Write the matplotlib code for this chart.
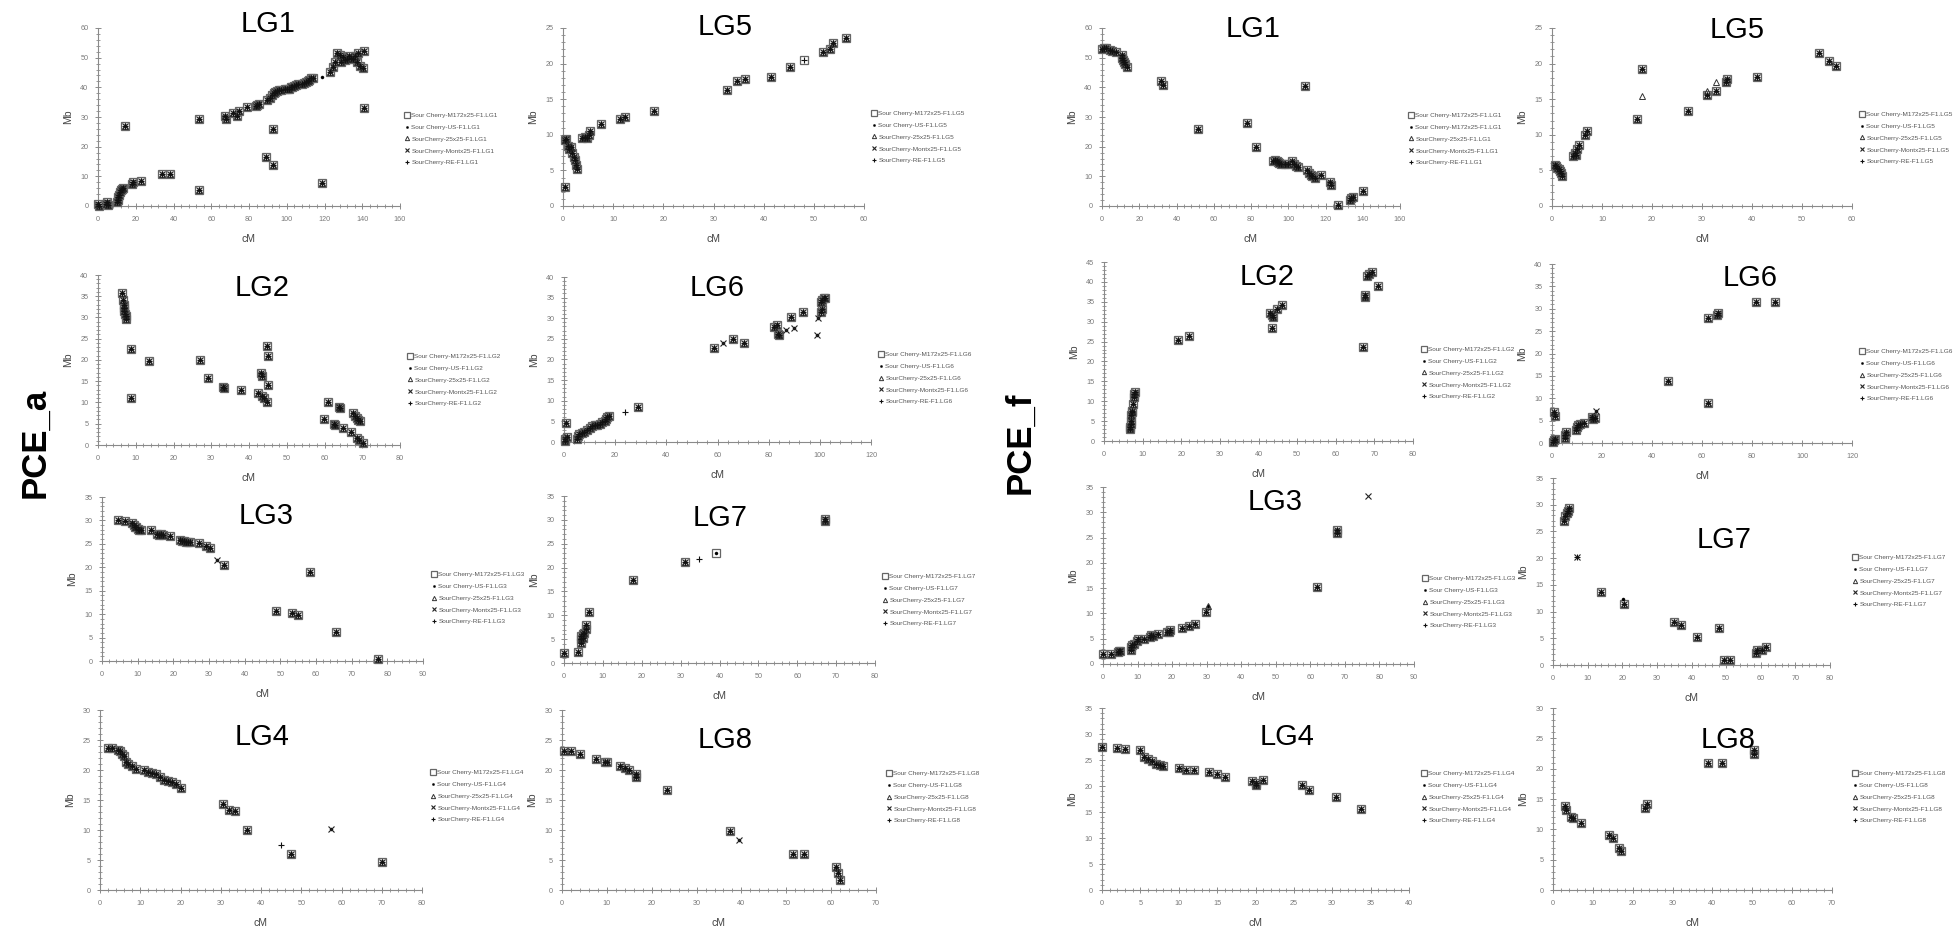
import matplotlib
matplotlib.use("Agg")
import matplotlib.pyplot as plt
from matplotlib.ticker import MultipleLocator, AutoMinorLocator
from matplotlib.lines import Line2D

plt.rcParams['font.family'] = ['Liberation Sans', 'DejaVu Sans']

W, H = 1959, 938

# ---------------- data (cM, Mb) ----------------
# PCE_a
A_LG1_cM = [0, 0.3, 4.5, 5, 5.3, 10, 10.4, 10.8, 11.2, 11.5, 12, 12.5, 13, 14.1, 18.2, 18.6, 23, 34, 38.4, 53.4, 53.7,
            67.2, 68, 71.6, 73.7, 74.6, 78.7, 83.6, 84.2, 85.4, 89.3, 91, 92, 93, 94, 95, 96, 97, 99, 100, 101, 102, 103,
            104, 105, 106, 108, 109, 110, 111, 112, 113, 114, 88.8, 92.8, 92.6, 118.5, 122.9, 124.6, 125.5, 126.4, 128,
            130, 132, 134, 136, 137.9, 141, 129, 131, 133, 135, 137, 139, 140.6, 141]
A_LG1_Mb = [0.6, 0.0, 0.8, 1.3, 0.4, 1.2, 2.0, 3.0, 3.8, 4.6, 5.3, 5.8, 6.1, 26.8, 7.3, 8.0, 8.5, 10.9, 10.8, 5.3, 29.4,
            30.3, 29.3, 31.3, 30.4, 32.0, 33.5, 33.6, 33.9, 34.3, 35.7, 36.5, 37.5, 38.0, 38.4, 38.8, 39.0, 39.2, 39.3, 39.5,
            39.6, 40.0, 40.2, 40.5, 40.8, 41.0, 41.2, 41.5, 41.8, 42.0, 42.5, 43.0, 43.3, 16.4, 13.8, 25.9, 7.9, 45.0, 46.8,
            48.5, 51.5, 50.8, 50.2, 49.6, 49.8, 50.6, 51.5, 52.1, 48.6, 49.2, 50.5, 49.5, 48.5, 47.3, 46.6, 32.9]
A_LG1_x_cM, A_LG1_x_Mb, A_LG1_x_ser = [118.8], [43.4], [[1]]

A_LG5_cM = [0.33, 0.3, 0.5, 1.0, 1.2, 1.5, 1.8, 2.1, 2.3, 2.6, 2.8, 3.7, 4.4, 4.8, 5.1, 5.45, 7.6, 11.3, 12.4, 18.1, 32.6,
            34.6, 36.3, 41.5, 45.2, 51.8, 53.2, 53.8, 56.5]
A_LG5_Mb = [2.66, 9.2, 9.45, 8.4, 8.0, 8.3, 7.5, 6.9, 6.4, 5.7, 5.2, 9.5, 9.7, 9.5, 10.0, 10.6, 11.5, 12.25, 12.5, 13.3,
            16.3, 17.5, 17.8, 18.1, 19.5, 21.6, 22.0, 22.9, 23.6]
A_LG5_x_cM, A_LG5_x_Mb, A_LG5_x_ser = [48.0], [20.5], [[0, 4]]

A_LG2_cM = [6.45, 6.7, 6.8, 6.9, 7.0, 7.2, 7.3, 7.5, 8.84, 8.84, 13.5, 27, 29.2, 33, 33.3, 37.8, 42.4, 43.5, 44, 44.65,
            43.1, 43.5, 44.8, 45.1, 45.1, 59.9, 60.8, 62.4, 62.9, 63.8, 64.1, 65, 67, 67.5, 68, 68.5, 69, 69.3, 68.7,
            69.1, 70.3]
A_LG2_Mb = [35.8, 34, 33, 32.3, 31.5, 30.8, 30.3, 29.7, 22.6, 11, 19.8, 20, 15.7, 13.7, 13.3, 12.9, 12.3, 11.6, 11, 10.2,
            16.9, 16.2, 23.3, 20.9, 14.1, 6.0, 10.0, 4.9, 4.8, 9.0, 8.6, 4.1, 3.1, 7.45, 6.8, 6.3, 5.9, 5.6, 1.6, 1.2, 0.55]
A_LG2_x_cM, A_LG2_x_Mb, A_LG2_x_ser = [], [], []

A_LG6_cM = [0.3, 0.5, 1, 0.9, 5, 5.5, 6, 7, 8, 9, 10, 11, 12, 13, 14, 15, 16, 16.5, 17, 17.5, 29, 58.6, 65.9, 70.5,
            82.1, 83.4, 83.5, 84, 88.8, 93.6, 100.5, 100.7, 100.5, 101, 101.5, 102]
A_LG6_Mb = [0.3, 0.8, 1.1, 4.6, 0.8, 1.5, 2, 2.2, 2.5, 3, 3.5, 3.8, 4, 4.2, 4.4, 4.8, 5.2, 5.6, 6, 6.3, 8.5, 22.8, 25.05,
            24, 27.9, 28.3, 26.1, 26, 30.3, 31.5, 31.5, 32.2, 34, 34.5, 34.8, 34.9]
A_LG6_x_cM = [23.8, 62.3, 86.8, 89.9, 99.1, 98.8]
A_LG6_x_Mb = [7.3, 24.1, 27.1, 27.7, 30.1, 25.9]
A_LG6_x_ser = [[4], [1, 3], [1, 3], [1, 3], [1, 3], [1, 3]]

A_LG3_cM = [4.5, 6.4, 8.5, 9, 9.3, 9.6, 10, 10.5, 11, 13.6, 15.5, 16, 16.5, 17, 19.2, 21.8, 22.5, 23, 23.5, 24.2, 24.6,
            27.2, 29.2, 30.2, 34.3, 48.8, 53.2, 54.9, 58.3, 65.6, 77.3]
A_LG3_Mb = [30.1, 29.9, 29.5, 29, 28.7, 28.5, 28.2, 28, 28, 27.9, 27, 26.8, 27.1, 26.8, 26.6, 25.8, 25.7, 25.6, 25.5,
            25.4, 25.3, 25.1, 24.5, 24.1, 20.4, 10.7, 10.3, 9.8, 19.1, 6.1, 0.4]
A_LG3_x_cM, A_LG3_x_Mb, A_LG3_x_ser = [32.3], [21.6], [[1, 3]]

A_LG7_cM = [0.1, 3.6, 4.3, 4.4, 4.5, 4.8, 5.0, 5.2, 5.7, 5.7, 6.4, 17.8, 31.2, 67.2, 67.2]
A_LG7_Mb = [2.2, 2.4, 4.2, 5.0, 5.7, 5.3, 6.0, 6.3, 7.2, 7.9, 10.6, 17.4, 21.1, 29.8, 30.2]
A_LG7_x_cM, A_LG7_x_Mb, A_LG7_x_ser = [34.8, 39.0], [21.8, 23.0], [[4], [0, 1]]

A_LG4_cM = [2, 3, 4.5, 5, 5.5, 6, 6.5, 7, 8, 9, 11, 12, 13, 14, 15, 16, 17, 18, 19, 20, 30.5, 32, 33.5, 36.5, 47.5, 70]
A_LG4_Mb = [23.6, 23.6, 23.4, 23.2, 22.7, 22.3, 21.4, 21.0, 20.6, 20.1, 20.0, 19.7, 19.5, 19.3, 18.9, 18.4, 18.2, 18.0,
            17.6, 17.0, 14.3, 13.3, 13.1, 10.0, 6.0, 4.7]
A_LG4_x_cM, A_LG4_x_Mb, A_LG4_x_ser = [45, 57.5], [7.5, 10.2], [[4], [1, 3]]

A_LG8_cM = [0.5, 2, 4, 7.5, 9.5, 10, 13, 14, 15, 16.5, 16.5, 23.5, 37.5, 51.5, 54, 61, 61.5, 62]
A_LG8_Mb = [23.2, 23.2, 22.7, 21.9, 21.4, 21.3, 20.6, 20.3, 20.0, 19.3, 18.9, 16.7, 9.8, 6.0, 6.0, 3.8, 2.9, 1.6]
A_LG8_x_cM, A_LG8_x_Mb, A_LG8_x_ser = [39.5], [8.3], [[1, 3]]

# PCE_f
F_LG1_cM = [0, 1, 2, 4.5, 5.5, 7.5, 10.5, 11, 11.5, 12, 12.5, 13.4, 31.6, 33, 51.8, 78.1, 82.8, 92, 93, 93.8, 94.5, 95,
            96, 98, 100, 102, 103, 104, 105.5, 109, 110, 111, 112, 113, 114.4, 117.6, 122.4, 123, 126.9, 133, 133.8,
            134.6, 140.3]
F_LG1_Mb = [53, 53.3, 53.1, 52.6, 52.2, 51.8, 51, 50, 49.2, 48.5, 47.8, 46.9, 42.3, 40.8, 26, 27.9, 19.8, 15, 15.5, 15.2,
            14.8, 14.5, 14.2, 14, 14, 15, 14, 13.5, 13.1, 40.6, 12, 11.2, 10.6, 10.0, 9.6, 10.3, 8.1, 7.0, 0.3, 1.9, 2.6,
            3.0, 5.0]
F_LG1_x_cM, F_LG1_x_Mb, F_LG1_x_ser = [], [], []

F_LG5_cM = [0.5, 0.8, 1.0, 1.3, 1.5, 1.8, 2.0, 4.2, 4.5, 4.8, 5.0, 5.3, 6.5, 6.9, 17, 17.9, 27.1, 31, 32.7, 34.7, 35, 41,
            53.3, 55.3, 56.7]
F_LG5_Mb = [5.8, 5.6, 5.4, 5.2, 4.9, 4.6, 4.2, 7.0, 7.5, 7.2, 8.0, 8.5, 10.0, 10.6, 12.2, 19.25, 13.4, 15.6, 16.1, 17.4,
            17.8, 18.1, 21.5, 20.3, 19.7]
F_LG5_x_cM, F_LG5_x_Mb, F_LG5_x_ser = [17.9, 32.7, 31.0], [15.5, 17.35, 16.1], [[2], [2], [2]]

F_LG2_cM = [6.8, 6.8, 7.0, 6.9, 7.0, 7.2, 7.3, 7.4, 7.8, 7.8, 7.9, 19.2, 22.1, 43, 43.5, 43.8, 43.4, 44.7, 46, 67.1, 67.5,
            67.5, 68.2, 68.6, 69.5, 71]
F_LG2_Mb = [3.0, 3.6, 4.3, 5.0, 6.6, 7.2, 7.6, 9.2, 11.0, 11.8, 12.3, 25.4, 26.4, 32.2, 31.6, 31.2, 28.3, 33.2, 34.3,
            23.7, 36.3, 36.8, 41.6, 42.0, 42.6, 38.9]
F_LG2_x_cM, F_LG2_x_Mb, F_LG2_x_ser = [], [], []

F_LG6_cM = [0.5, 0.8, 1.0, 0.9, 1.1, 5.3, 5.3, 5.4, 9.5, 10, 10.5, 11, 12.9, 16, 16.5, 17, 46.4, 62.2, 62.4, 65.8, 66.2,
            81.7, 89.3]
F_LG6_Mb = [0.3, 0.6, 1.0, 7.0, 6.0, 1.2, 1.8, 2.4, 3.0, 3.5, 4.0, 4.2, 4.5, 5.9, 5.3, 5.5, 13.9, 8.9, 27.9, 28.5, 29,
            31.6, 31.6]
F_LG6_x_cM, F_LG6_x_Mb, F_LG6_x_ser = [17.4], [7.1], [[1, 3]]

F_LG3_cM = [0.1, 2.4, 4.2, 4.6, 5, 8, 8.2, 8.5, 9, 9.9, 10.1, 12, 13.5, 14, 14.5, 15.9, 18.5, 19, 19.5, 23, 24.8, 26.5,
            29.9, 61.8, 67.6, 67.6]
F_LG3_Mb = [2.0, 2.0, 2.3, 2.5, 2.6, 2.8, 3.4, 3.8, 4.0, 4.5, 4.9, 5.0, 5.4, 5.7, 5.5, 5.9, 6.4, 6.3, 6.8, 7.2, 7.6, 7.9,
            10.2, 15.2, 26.0, 26.5]
F_LG3_x_cM, F_LG3_x_Mb, F_LG3_x_ser = [30.4, 76.7], [11.4, 33.2], [[1, 2], [3]]

F_LG7_cM = [3.3, 3.6, 4.0, 4.2, 4.5, 13.8, 20.5, 34.9, 37, 41.5, 48, 49.5, 51, 58.5, 59, 60.5, 61.5]
F_LG7_Mb = [27.0, 27.8, 28.5, 28.9, 29.3, 13.7, 11.5, 8.0, 7.5, 5.2, 7.0, 1.0, 1.0, 2.2, 2.8, 2.9, 3.3]
F_LG7_x_cM, F_LG7_x_Mb, F_LG7_x_ser = [6.9, 20.3], [20.3, 12.3], [[3, 4], [1]]

F_LG4_cM = [0, 2, 3, 5, 5.5, 6, 6.5, 7, 7.5, 8, 10, 11, 12, 14, 15, 16, 19.5, 20, 20, 21, 26, 27, 30.5, 33.8]
F_LG4_Mb = [27.5, 27.3, 27.1, 26.9, 25.6, 25.2, 24.8, 24.3, 24.1, 23.9, 23.5, 23.1, 23.1, 22.7, 22.4, 21.8, 21.0, 20.6,
            20.1, 21.2, 20.1, 19.3, 17.9, 15.5]
F_LG4_x_cM, F_LG4_x_Mb, F_LG4_x_ser = [], [], []

F_LG8_cM = [3, 3.2, 4.5, 5, 7, 14, 15, 16.5, 17, 23, 23.5, 39, 42.5, 50.5, 50.5]
F_LG8_Mb = [13.8, 13.2, 12, 11.8, 11, 9, 8.5, 7, 6.5, 13.5, 14.2, 21, 21, 22.5, 23]
F_LG8_x_cM, F_LG8_x_Mb, F_LG8_x_ser = [], [], []

SERIES_NAMES = ["Sour Cherry-M172x25-F1.", "Sour Cherry-US-F1.", "SourCherry-25x25-F1.",
                "SourCherry-Montx25-F1.", "SourCherry-RE-F1."]
SERIES_NAMES_F_LG1 = ["Sour Cherry-M172x25-F1.", "Sour Cherry-M172x25-F1.", "SourCherry-25x25-F1.",
                      "SourCherry-Montx25-F1.", "SourCherry-RE-F1."]
GROUP_LABELS = ["PCE_a", "PCE_f"]

# ---------------- styles ----------------
MARKERS = [
    dict(marker='s', ms=6.0, mfc='none', mec='#666666', mew=0.9),
    dict(marker='o', ms=2.2, mfc='black', mec='black', mew=0.3),
    dict(marker='^', ms=4.4, mfc='none', mec='#333333', mew=0.7),
    dict(marker='x', ms=4.0, mfc='none', mec='#222222', mew=0.8),
    dict(marker='+', ms=4.4, mfc='none', mec='#111111', mew=0.8),
]

def box(l, r, t, b):
    return [l / W, 1 - b / H, (r - l) / W, (b - t) / H]

# name, cM, Mb, extras, xmax, xstep, ymax, ystep, axes px (l,r,t,b), title px (x,y), legend px (x,y), names
PANELS = [
    ("LG1", A_LG1_cM, A_LG1_Mb, (A_LG1_x_cM, A_LG1_x_Mb, A_LG1_x_ser), 160, 20, 60, 10, (98, 400, 28, 206), (268, 24), (405, 139), SERIES_NAMES),
    ("LG5", A_LG5_cM, A_LG5_Mb, (A_LG5_x_cM, A_LG5_x_Mb, A_LG5_x_ser), 60, 10, 25, 5, (563, 864, 28, 206), (725, 27), (872, 137), SERIES_NAMES),
    ("LG2", A_LG2_cM, A_LG2_Mb, (A_LG2_x_cM, A_LG2_x_Mb, A_LG2_x_ser), 80, 10, 40, 5, (98, 400, 275, 445), (262, 288), (408, 380), SERIES_NAMES),
    ("LG6", A_LG6_cM, A_LG6_Mb, (A_LG6_x_cM, A_LG6_x_Mb, A_LG6_x_ser), 120, 20, 40, 5, (564, 871, 277, 442), (717, 288), (879, 378), SERIES_NAMES),
    ("LG3", A_LG3_cM, A_LG3_Mb, (A_LG3_x_cM, A_LG3_x_Mb, A_LG3_x_ser), 90, 10, 35, 5, (102, 423, 497, 661), (266, 516), (432, 598), SERIES_NAMES),
    ("LG7", A_LG7_cM, A_LG7_Mb, (A_LG7_x_cM, A_LG7_x_Mb, A_LG7_x_ser), 80, 10, 35, 5, (564, 875, 496, 663), (720, 518), (883, 600), SERIES_NAMES),
    ("LG4", A_LG4_cM, A_LG4_Mb, (A_LG4_x_cM, A_LG4_x_Mb, A_LG4_x_ser), 80, 10, 30, 5, (100, 422, 710, 890), (262, 737), (431, 796), SERIES_NAMES),
    ("LG8", A_LG8_cM, A_LG8_Mb, (A_LG8_x_cM, A_LG8_x_Mb, A_LG8_x_ser), 70, 10, 30, 5, (562, 876, 710, 890), (725, 740), (887, 797), SERIES_NAMES),
    ("LG1", F_LG1_cM, F_LG1_Mb, (F_LG1_x_cM, F_LG1_x_Mb, F_LG1_x_ser), 160, 20, 60, 10, (1102, 1400, 28, 206), (1253, 29), (1409, 139), SERIES_NAMES_F_LG1),
    ("LG5", F_LG5_cM, F_LG5_Mb, (F_LG5_x_cM, F_LG5_x_Mb, F_LG5_x_ser), 60, 10, 25, 5, (1552, 1852, 28, 206), (1737, 30), (1860, 138), SERIES_NAMES),
    ("LG2", F_LG2_cM, F_LG2_Mb, (F_LG2_x_cM, F_LG2_x_Mb, F_LG2_x_ser), 80, 10, 45, 5, (1104, 1413, 262, 441), (1267, 277), (1422, 373), SERIES_NAMES),
    ("LG6", F_LG6_cM, F_LG6_Mb, (F_LG6_x_cM, F_LG6_x_Mb, F_LG6_x_ser), 120, 20, 40, 5, (1552, 1852, 264, 443), (1750, 278), (1860, 375), SERIES_NAMES),
    ("LG3", F_LG3_cM, F_LG3_Mb, (F_LG3_x_cM, F_LG3_x_Mb, F_LG3_x_ser), 90, 10, 35, 5, (1103, 1414, 487, 664), (1275, 502), (1423, 602), SERIES_NAMES),
    ("LG7", F_LG7_cM, F_LG7_Mb, (F_LG7_x_cM, F_LG7_x_Mb, F_LG7_x_ser), 80, 10, 35, 5, (1553, 1830, 478, 665), (1724, 540), (1853, 581), SERIES_NAMES),
    ("LG4", F_LG4_cM, F_LG4_Mb, (F_LG4_x_cM, F_LG4_x_Mb, F_LG4_x_ser), 40, 5, 35, 5, (1102, 1409, 708, 890), (1287, 737), (1422, 797), SERIES_NAMES),
    ("LG8", F_LG8_cM, F_LG8_Mb, (F_LG8_x_cM, F_LG8_x_Mb, F_LG8_x_ser), 70, 10, 30, 5, (1553, 1832, 708, 890), (1728, 740), (1853, 797), SERIES_NAMES),
]

fig = plt.figure(figsize=(W / 100, H / 100), dpi=100)
fig.patch.set_facecolor('white')

for (name, cm, mb, extra, xmax, xstep, ymax, ystep, apx, tpx, lpx, names) in PANELS:
    ax = fig.add_axes(box(*apx))
    ax.set_facecolor('none')
    ex_cm, ex_mb, ex_ser = extra
    for si, st in enumerate(MARKERS):
        xs = list(cm) + [c for c, s in zip(ex_cm, ex_ser) if si in s]
        ys = list(mb) + [m for m, s in zip(ex_mb, ex_ser) if si in s]
        ax.plot(xs, ys, ls='none', clip_on=False, zorder=3 + si, **st)
    ax.set_xlim(0, xmax)
    ax.set_ylim(0, ymax)
    ax.xaxis.set_major_locator(MultipleLocator(xstep))
    ax.yaxis.set_major_locator(MultipleLocator(ystep))
    ax.xaxis.set_minor_locator(AutoMinorLocator(5))
    ax.yaxis.set_minor_locator(AutoMinorLocator(5))
    for sp in ['top', 'right']:
        ax.spines[sp].set_visible(False)
    for sp in ['left', 'bottom']:
        ax.spines[sp].set_color('#8a8a8a')
        ax.spines[sp].set_linewidth(0.8)
    ax.tick_params(which='major', direction='inout', length=4, width=0.7, color='#8a8a8a',
                   labelsize=5.2, labelcolor='#7a7a7a', pad=5)
    ax.tick_params(which='minor', direction='inout', length=2.4, width=0.6, color='#8a8a8a')
    ax.set_xlabel('cM', fontsize=7.5, color='#444444', labelpad=8)
    ax.set_ylabel('Mb', fontsize=7.5, color='#444444', labelpad=5)
    fig.text(tpx[0] / W, 1 - tpx[1] / H, name, fontsize=21, ha='center', va='center', color='black')
    handles = [Line2D([], [], ls='none', **st) for st in MARKERS]
    labels = [n + name for n in names]
    fig.legend(handles, labels, loc='center left', bbox_to_anchor=(lpx[0] / W, 1 - lpx[1] / H),
               bbox_transform=fig.transFigure, frameon=False, borderpad=0, borderaxespad=0,
               prop={'family': ['Liberation Sans Narrow', 'Liberation Sans'], 'size': 4.6},
               handlelength=0.6, handletextpad=0.4, labelspacing=1.0, markerscale=0.7,
               labelcolor='#555555')

fig.text(35 / W, 1 - 443 / H, GROUP_LABELS[0], fontsize=25, fontweight='bold', rotation=90,
         ha='center', va='center')
fig.text(1020 / W, 1 - 443 / H, GROUP_LABELS[1], fontsize=25, fontweight='bold', rotation=90,
         ha='center', va='center')

fig.savefig('out.png', dpi=100, facecolor='white')
